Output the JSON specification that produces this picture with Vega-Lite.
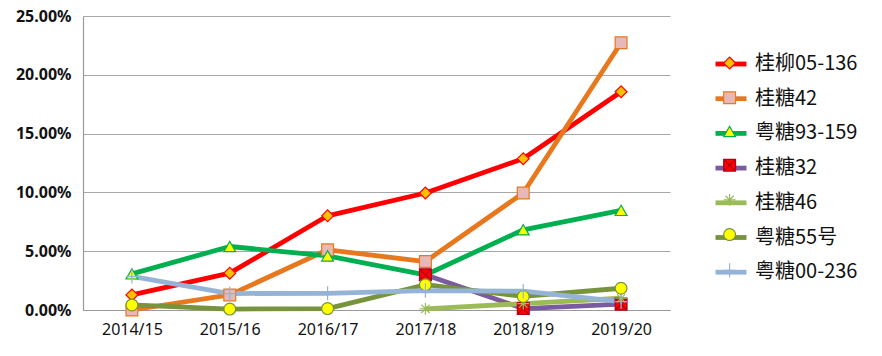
{
  "$schema": "https://vega.github.io/schema/vega-lite/v6.json",
  "width": 587,
  "height": 294,
  "autosize": {"type": "none"},
  "padding": {"left": 83, "top": 16, "right": 212, "bottom": 46},
  "background": "white",
  "config": {"view": {"stroke": null}},
  "data": {
    "values": [
      {"season": "2014/15", "variety": "桂柳05-136", "rate": 0.0128},
      {"season": "2015/16", "variety": "桂柳05-136", "rate": 0.0313},
      {"season": "2016/17", "variety": "桂柳05-136", "rate": 0.0801},
      {"season": "2017/18", "variety": "桂柳05-136", "rate": 0.0995},
      {"season": "2018/19", "variety": "桂柳05-136", "rate": 0.1287},
      {"season": "2019/20", "variety": "桂柳05-136", "rate": 0.1856},
      {"season": "2014/15", "variety": "桂糖42", "rate": 0.0},
      {"season": "2015/16", "variety": "桂糖42", "rate": 0.0128},
      {"season": "2016/17", "variety": "桂糖42", "rate": 0.0512},
      {"season": "2017/18", "variety": "桂糖42", "rate": 0.0412},
      {"season": "2018/19", "variety": "桂糖42", "rate": 0.0995},
      {"season": "2019/20", "variety": "桂糖42", "rate": 0.2273},
      {"season": "2014/15", "variety": "粤糖93-159", "rate": 0.0307},
      {"season": "2015/16", "variety": "粤糖93-159", "rate": 0.054},
      {"season": "2016/17", "variety": "粤糖93-159", "rate": 0.046},
      {"season": "2017/18", "variety": "粤糖93-159", "rate": 0.0298},
      {"season": "2018/19", "variety": "粤糖93-159", "rate": 0.0682},
      {"season": "2019/20", "variety": "粤糖93-159", "rate": 0.0847},
      {"season": "2017/18", "variety": "桂糖32", "rate": 0.03},
      {"season": "2018/19", "variety": "桂糖32", "rate": 0.0012},
      {"season": "2019/20", "variety": "桂糖32", "rate": 0.005},
      {"season": "2017/18", "variety": "桂糖46", "rate": 0.001},
      {"season": "2018/19", "variety": "桂糖46", "rate": 0.0055},
      {"season": "2019/20", "variety": "桂糖46", "rate": 0.01},
      {"season": "2014/15", "variety": "粤糖55号", "rate": 0.0043},
      {"season": "2015/16", "variety": "粤糖55号", "rate": 0.0008},
      {"season": "2016/17", "variety": "粤糖55号", "rate": 0.0012},
      {"season": "2017/18", "variety": "粤糖55号", "rate": 0.0215},
      {"season": "2018/19", "variety": "粤糖55号", "rate": 0.0115},
      {"season": "2019/20", "variety": "粤糖55号", "rate": 0.0185},
      {"season": "2014/15", "variety": "粤糖00-236", "rate": 0.0285},
      {"season": "2015/16", "variety": "粤糖00-236", "rate": 0.014},
      {"season": "2016/17", "variety": "粤糖00-236", "rate": 0.0142},
      {"season": "2017/18", "variety": "粤糖00-236", "rate": 0.0165},
      {"season": "2018/19", "variety": "粤糖00-236", "rate": 0.016},
      {"season": "2019/20", "variety": "粤糖00-236", "rate": 0.0071}
    ]
  },
  "encoding": {
    "x": {
      "field": "season", "type": "ordinal",
      "scale": {"type": "point", "padding": 0.5},
      "axis": {
        "title": null, "labelAngle": 0, "ticks": false, "grid": false,
        "labelFont": "Noto Sans", "labelFontSize": 16, "labelColor": "#111111",
        "labelPadding": 11, "domainColor": "#9A9A9A", "domainWidth": 1.2
      }
    },
    "y": {
      "field": "rate", "type": "quantitative",
      "scale": {"domain": [0, 0.25], "nice": false},
      "axis": {
        "title": null, "values": [0, 0.05, 0.1, 0.15, 0.2, 0.25], "format": ".2%",
        "ticks": false, "labelFont": "Noto Sans", "labelFontWeight": "bold",
        "labelFontSize": 16, "labelColor": "#111111", "labelPadding": 12,
        "domainColor": "#9A9A9A", "domainWidth": 1.2,
        "gridColor": "#A8A8A8", "gridWidth": 1
      }
    }
  },
  "layer": [
    {
      "mark": {"type": "line", "strokeWidth": 4.8, "strokeJoin": "round"},
      "encoding": {
        "stroke": {
          "field": "variety", "type": "nominal",
          "scale": {
            "domain": ["桂柳05-136", "桂糖42", "粤糖93-159", "桂糖32", "桂糖46", "粤糖55号", "粤糖00-236"],
            "range": ["#FF0000", "#E8781E", "#00B050", "#7A5BA0", "#9BBB59", "#77933C", "#95B3D7"]
          },
          "legend": {
            "title": null, "orient": "none", "legendX": 630, "legendY": 30,
            "symbolType": "stroke", "symbolSize": 961, "symbolStrokeWidth": 4.8,
            "labelFont": "Noto Sans CJK SC", "labelFontSize": 20, "labelColor": "#111111",
            "labelOffset": 6, "rowPadding": 6.7, "labelLimit": 300
          }
        }
      }
    },
    {
      "mark": {"type": "point", "filled": false, "size": 140, "strokeWidth": 1.2, "opacity": 1},
      "encoding": {
        "shape": {
          "field": "variety", "type": "nominal", "sort": null,
          "scale": {
            "range": [
              "diamond", "square", "triangle-up",
              "M-1,-1H1V1H-1ZM-1,-1L1,1M-1,1L1,-1",
              "M-1,0H1M0,-1V1M-0.7,-0.7L0.7,0.7M-0.7,0.7L0.7,-0.7",
              "circle",
              "M-1,0H1M0,-1.2V1.2"
            ]
          },
          "legend": {
            "title": null, "orient": "none", "legendX": 639.6, "legendY": 40.1,
            "symbolSize": 140, "symbolOpacity": 1, "symbolStrokeWidth": 1.2,
            "labelExpr": "''", "labelFontSize": 1, "labelOffset": 0,
            "rowPadding": 16.7
          }
        },
        "fill": {
          "field": "variety", "type": "nominal", "sort": null,
          "scale": {"range": ["#FFC000", "#E6B9B8", "#FFFF00", "#FF0000", "transparent", "#FFFF00", "transparent"]}
        },
        "color": {
          "field": "variety", "type": "nominal", "sort": null,
          "scale": {"range": ["#FF0000", "#E8781E", "#00B050", "#B0001A", "#9BBB59", "#77933C", "#95B3D7"]}
        }
      }
    }
  ]
}
